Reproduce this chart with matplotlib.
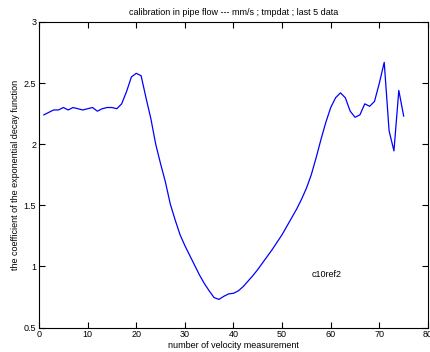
import numpy as np
import matplotlib.pyplot as plt

plt.rcParams['font.family'] = ['Liberation Sans', 'DejaVu Sans']

# number of velocity measurement
meas = np.arange(1, 76)

# coefficient of the exponential decay function
coef = [
    2.24, 2.26, 2.28, 2.28, 2.30, 2.28, 2.30, 2.29, 2.28, 2.29,
    2.30, 2.27, 2.29, 2.30, 2.30, 2.29, 2.33, 2.43, 2.55, 2.58,
    2.56, 2.38, 2.21, 2.00, 1.84, 1.69, 1.51, 1.38, 1.26, 1.17,
    1.09, 1.01, 0.93, 0.86, 0.80, 0.745, 0.73, 0.755, 0.775, 0.78,
    0.80, 0.835, 0.88, 0.925, 0.975, 1.03, 1.085, 1.14, 1.20, 1.26,
    1.33, 1.40, 1.47, 1.55, 1.64, 1.75, 1.89, 2.04, 2.18, 2.30,
    2.38, 2.42, 2.38, 2.27, 2.22, 2.24, 2.33, 2.31, 2.35, 2.50,
    2.67, 2.11, 1.945, 2.44, 2.23,
]

xticks = [0, 10, 20, 30, 40, 50, 60, 70, 80]
yticks = [0.5, 1, 1.5, 2, 2.5, 3]

fig = plt.figure(figsize=(4.31, 3.52), dpi=100)
ax = fig.add_axes([0.0905, 0.0696, 0.9025, 0.868])

ax.plot(meas, coef, color='#0000ff', linewidth=0.9)
ax.text(56, 0.93, 'c10ref2', fontsize=6.5, ha='left', va='center')

ax.set_xlim(0, 80)
ax.set_ylim(0.5, 3)
ax.set_xticks(xticks)
ax.set_yticks(yticks)
ax.set_xticklabels([str(t) for t in xticks])
ax.set_yticklabels(['0.5', '1', '1.5', '2', '2.5', '3'])
ax.tick_params(direction='in', top=True, right=True, length=4, width=0.8,
               labelsize=6.5, pad=2)
for s in ax.spines.values():
    s.set_linewidth(0.8)

ax.set_title('calibration in pipe flow --- mm/s ; tmpdat ; last 5 data',
             fontsize=6.5, pad=5)
ax.set_xlabel('number of velocity measurement', fontsize=6.5, labelpad=1)
ax.set_ylabel('the coefficient of the exponential decay function',
              fontsize=6.5, labelpad=3)

fig.savefig('out.png', dpi=100)
